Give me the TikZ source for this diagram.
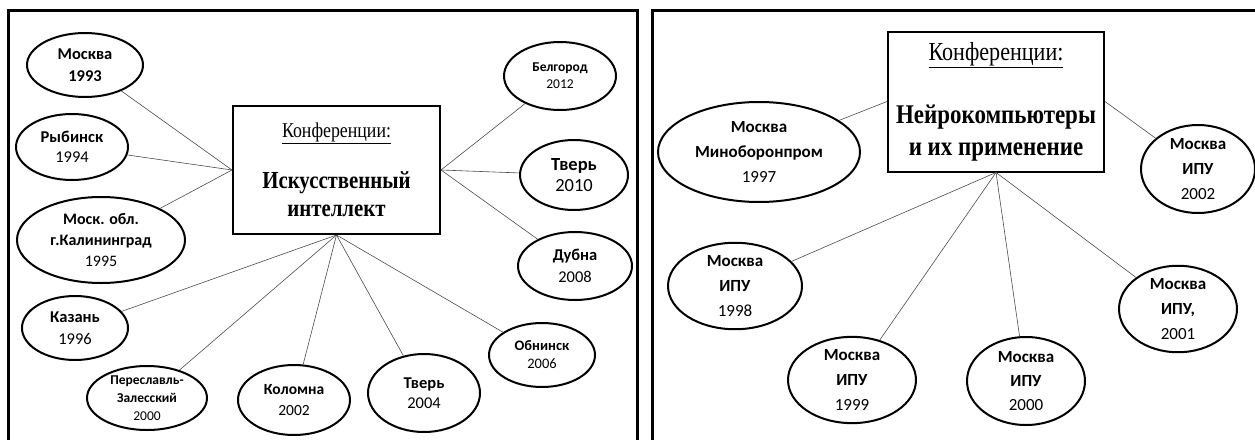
\documentclass[tikz,border=0pt]{standalone}
\usepackage{fontspec}
\setmainfont{Carlito}
\newfontfamily\timesfont[FakeStretch=0.85]{Liberation Serif}
\usepackage{tikz}
\usetikzlibrary{shapes.geometric}
\newcommand\setfs[2]{\fontsize{#1}{#2}\selectfont}
\tikzstyle{city} = [ellipse, draw, line width=2pt, align=center, inner sep=0pt]
\tikzstyle{topic} = [rectangle, draw, line width=2pt, align=center, inner sep=0pt]
\tikzstyle{link} = [draw=black!70, line width=0.6pt]
\tikzstyle{frame} = [line width=3pt]

\begin{document}
\begin{tikzpicture}[x=1pt, y=-1pt]
        \useasboundingbox (0,0) rectangle (1255,439);
        % Frames
        \draw [frame] (8,445) -- (8,10) -- (637,10) -- (637,445);
        \draw [frame] (652,445) -- (652,10) -- (1260,10);

        % Left panel: topic
        \node (ai) [topic, minimum width=207pt, minimum height=128pt, font=\timesfont\bfseries\setfs{24.5}{28}] at (336.5,170)
            {{\mdseries\setfs{21}{22}\underline{Конференции:}}\\[23pt] Искусственный\\ интеллект};

        % Left panel: cities
        \node (moscow93) [city, minimum width=116pt, minimum height=64pt, font=\setfs{16.5}{22}] at (85,65) {\textbf{Москва}\\ \textbf{1993}};
        \node (rybinsk94) [city, minimum width=112pt, minimum height=66pt, font=\setfs{16.5}{20}] at (72,147) {\textbf{Рыбинск}\\ 1994};
        \node (kalin95) [city, minimum width=168pt, minimum height=86pt, font=\setfs{16}{21}] at (101,240) {\textbf{Моск. обл.}\\ \textbf{г.Калининград}\\ 1995};
        \node (kazan96) [city, minimum width=106pt, minimum height=64pt, font=\setfs{16.5}{22}] at (75,328) {\textbf{Казань}\\ 1996};
        \node (pereslavl00) [city, minimum width=120pt, minimum height=64pt, font=\setfs{13.5}{18}] at (147,398) {\textbf{Переславль-}\\ \textbf{Залесский}\\ 2000};
        \node (kolomna02) [city, minimum width=112pt, minimum height=70pt, font=\setfs{15.5}{21}] at (294,400) {\textbf{Коломна}\\ 2002};
        \node (tver04) [city, minimum width=112pt, minimum height=78pt, font=\setfs{16.5}{20}] at (424,393) {\textbf{Тверь}\\ 2004};
        \node (obninsk06) [city, minimum width=106pt, minimum height=64pt, font=\setfs{14.5}{18}] at (542,355) {\textbf{Обнинск}\\ 2006};
        \node (dubna08) [city, minimum width=114pt, minimum height=68pt, font=\setfs{16.5}{22}] at (575,266) {\textbf{Дубна}\\ 2008};
        \node (tver10) [city, minimum width=108pt, minimum height=70pt, font=\setfs{18.5}{21}] at (574,175) {\textbf{Тверь}\\ 2010};
        \node (belgorod12) [city, minimum width=112pt, minimum height=68pt, font=\setfs{13.5}{17}] at (560,76) {\textbf{Белгород}\\ 2012};

        % Right panel: topic
        \node (nc) [topic, minimum width=216pt, minimum height=140pt, font=\timesfont\bfseries\setfs{27}{32}] at (996,101.5)
            {{\mdseries\setfs{26}{28}\underline{Конференции:}}\\[31pt] Нейрокомпьютеры\\ и их применение};

        % Right panel: cities
        \node (mosmin97) [city, minimum width=202pt, minimum height=100pt, font=\setfs{17}{25}] at (759,152) {\textbf{Москва}\\ \textbf{Миноборонпром}\\ 1997};
        \node (ipu98) [city, minimum width=134pt, minimum height=86pt, font=\setfs{17}{25}] at (735,286) {\textbf{Москва}\\ \textbf{ИПУ}\\ 1998};
        \node (ipu99) [city, minimum width=128pt, minimum height=86pt, font=\setfs{17}{25}] at (852,380) {\textbf{Москва}\\ \textbf{ИПУ}\\ 1999};
        \node (ipu00) [city, minimum width=118pt, minimum height=88pt, font=\setfs{17}{24}] at (1026,381) {\textbf{Москва}\\ \textbf{ИПУ}\\ 2000};
        \node (ipu01) [city, minimum width=118pt, minimum height=82pt, font=\setfs{17}{25}] at (1178,309) {\textbf{Москва}\\ \textbf{ИПУ,}\\ 2001};
        \node (ipu02) [city, minimum width=114pt, minimum height=88pt, font=\setfs{17}{25}] at (1198,169) {\textbf{Москва}\\ \textbf{ИПУ}\\ 2002};

        % Connections
        \draw [link] (ai.west) -- (moscow93);
        \draw [link] (ai.west) -- (rybinsk94);
        \draw [link] (ai.west) -- (kalin95);

        \draw [link] (ai.south) -- (kazan96);
        \draw [link] (ai.south) -- (pereslavl00);
        \draw [link] (ai.south) -- (kolomna02);
        \draw [link] (ai.south) -- (tver04);
        \draw [link] (ai.south) -- (obninsk06);

        \draw [link] (ai.east) -- (belgorod12);
        \draw [link] (ai.east) -- (tver10);
        \draw [link] (ai.east) -- (dubna08);

        \draw [link] (nc.west) -- (mosmin97);
        \draw [link] (nc.east) -- (ipu02);
        \draw [link] (nc.south) -- (ipu98);
        \draw [link] (nc.south) -- (ipu99);
        \draw [link] (nc.south) -- (ipu00);
        \draw [link] (nc.south) -- (ipu01);
    \end{tikzpicture}
\end{document}
